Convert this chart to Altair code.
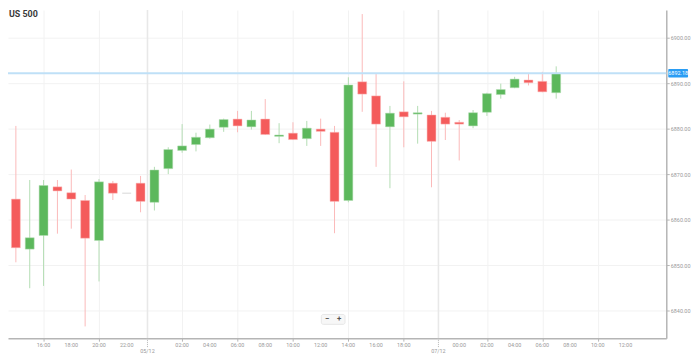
import altair as alt
import pandas as pd

# ---- data (hourly candles) ----
opens = [6864.5, 6853.5, 6856.5, 6867.2, 6865.9, 6864.2, 6855.4, 6868.0, 6865.8, 6868.0,
         6863.8, 6871.2, 6875.2, 6876.5, 6878.0, 6880.3, 6882.1, 6880.4, 6882.1, 6878.3,
         6879.0, 6877.8, 6879.9, 6879.2, 6864.2, 6890.3, 6887.2, 6880.4, 6883.7, 6883.2,
         6883.0, 6882.5, 6881.4, 6880.6, 6883.6, 6887.5, 6889.0, 6890.7, 6890.4, 6887.9]
highs = [6880.6, 6868.7, 6868.7, 6868.7, 6871.0, 6865.4, 6868.9, 6868.5, 6865.8, 6869.6,
         6871.6, 6875.9, 6881.0, 6879.1, 6880.9, 6882.2, 6883.9, 6883.9, 6886.5, 6881.2,
         6881.4, 6881.7, 6882.2, 6880.6, 6891.3, 6905.2, 6892.0, 6885.0, 6890.4, 6885.0,
         6883.9, 6883.5, 6881.9, 6884.1, 6887.9, 6889.9, 6891.4, 6892.0, 6892.5, 6893.7]
lows = [6850.6, 6844.9, 6845.4, 6856.9, 6858.0, 6836.5, 6846.4, 6864.3, 6865.8, 6861.6,
        6862.0, 6870.0, 6874.7, 6875.0, 6877.8, 6879.3, 6879.2, 6879.8, 6878.6, 6876.8,
        6877.5, 6876.2, 6876.2, 6857.0, 6863.8, 6883.7, 6871.6, 6866.9, 6875.9, 6876.7,
        6867.1, 6877.5, 6873.0, 6880.1, 6882.8, 6886.6, 6888.9, 6889.5, 6888.0, 6886.6]
closes = [6853.8, 6856.0, 6867.5, 6866.3, 6864.5, 6855.9, 6868.3, 6865.8, 6865.8, 6864.0,
          6870.9, 6875.4, 6876.2, 6878.1, 6879.9, 6882.0, 6880.6, 6881.9, 6878.7, 6878.6,
          6877.6, 6880.1, 6879.4, 6864.0, 6889.6, 6887.6, 6881.0, 6883.4, 6882.6, 6883.5,
          6877.2, 6881.0, 6881.0, 6883.5, 6887.7, 6888.6, 6890.9, 6890.1, 6888.1, 6892.18]

hour_ticks = [2, 4, 6, 8, 12, 14, 16, 18, 20, 22, 24, 26, 28, 32, 34, 36, 38, 40, 42, 44]
hour_labels = ["16:00", "18:00", "20:00", "22:00", "02:00", "04:00", "06:00", "08:00",
               "10:00", "12:00", "14:00", "16:00", "18:00", "00:00", "02:00", "04:00",
               "06:00", "08:00", "10:00", "12:00"]
date_ticks = [9.5, 30.5]
date_labels = ["05/12", "07/12"]
price_ticks = [6840, 6850, 6860, 6870, 6880, 6890, 6900]
last_price = 6892.18
title_text = "US 500"

# ---- tables ----
def direction(o, c):
    if c > o:
        return "up"
    if c < o:
        return "down"
    return "flat"

candles = pd.DataFrame({
    "i": list(range(len(opens))),
    "open": opens, "high": highs, "low": lows, "close": closes,
})
candles["dir"] = [direction(o, c) for o, c in zip(opens, closes)]
hours = pd.DataFrame({"i": hour_ticks, "label": hour_labels})
dates = pd.DataFrame({"i": date_ticks, "label": date_labels})
price = pd.DataFrame({"p": [last_price], "lo": [last_price - 0.95], "hi": [last_price + 0.95],
                      "label": [f"{last_price:.2f}"]})
title_df = pd.DataFrame({"t": [title_text]})
btn_df = pd.DataFrame({"t": ["\u2212", "+"], "px": [323, 335]})

W, H = 666, 332
FONT = "Roboto"
LBL = "#999999"

xscale = alt.Scale(domain=[-0.211, 46.59], nice=False, zero=False)
yscale = alt.Scale(domain=[6833.91, 6906.09], nice=False, zero=False)

body_col = alt.Scale(domain=["up", "down", "flat"], range=["#5cb85c", "#f45b5b", "#b8b8b8"])
wick_col = alt.Scale(domain=["up", "down", "flat"], range=["#b3ddb3", "#fbb9b9", "#d0d0d0"])

base = alt.Chart(candles)

wicks = base.mark_rule(strokeWidth=1).encode(
    x=alt.X("i:Q", scale=xscale, title=None,
            axis=alt.Axis(values=hour_ticks, labels=False, orient="bottom",
                          grid=True, gridColor="#f2f2f2", gridWidth=1,
                          domainColor="#b5b5b5", domainWidth=1.5,
                          tickColor="#b5b5b5", tickSize=3)),
    y=alt.Y("low:Q", scale=yscale, title=None,
            axis=alt.Axis(values=price_ticks, format=".2f", orient="right",
                          grid=True, gridColor="#f2f2f2", gridWidth=1,
                          domainColor="#b5b5b5", domainWidth=1.5,
                          tickColor="#b5b5b5", tickSize=3, labelPadding=1,
                          labelFontSize=5.5, labelColor=LBL, labelFont=FONT,
                          labelFlush=False, labelOverlap=False)),
    y2="high:Q",
    stroke=alt.Stroke("dir:N", scale=wick_col, legend=None),
)

hour_text = alt.Chart(hours).mark_text(fontSize=5.5, color=LBL, font=FONT,
                                       baseline="middle", align="center").encode(
    x=alt.X("i:Q", scale=xscale), y=alt.value(H + 7), text="label:N")

date_lines = alt.Chart(dates).mark_rule(color="#e8e8e8", strokeWidth=1.6).encode(
    x=alt.X("i:Q", scale=xscale), y=alt.value(0), y2=alt.value(H))

date_ticks_m = alt.Chart(dates).mark_rule(color="#b5b5b5", strokeWidth=1, strokeDash=[1, 1]).encode(
    x=alt.X("i:Q", scale=xscale), y=alt.value(H), y2=alt.value(H + 9))

date_text = alt.Chart(dates).mark_text(fontSize=5.5, color=LBL, font=FONT,
                                       baseline="middle", align="center").encode(
    x=alt.X("i:Q", scale=xscale), y=alt.value(H + 13), text="label:N")

bodies = base.mark_bar(size=9, strokeWidth=1, strokeOpacity=0.5).encode(
    x=alt.X("i:Q", scale=xscale),
    y=alt.Y("open:Q", scale=yscale),
    y2="close:Q",
    fill=alt.Fill("dir:N", scale=body_col, legend=None),
    stroke=alt.Stroke("dir:N", scale=wick_col, legend=None),
)

price_line = alt.Chart(price).mark_rule(color="#bfe0f7", strokeWidth=2).encode(
    y=alt.Y("p:Q", scale=yscale), x=alt.value(0), x2=alt.value(W))

price_box = alt.Chart(price).mark_rect(color="#2a9df4", cornerRadius=1).encode(
    y=alt.Y("lo:Q", scale=yscale), y2="hi:Q", x=alt.value(W + 2), x2=alt.value(W + 22))

price_text = alt.Chart(price).mark_text(fontSize=5.5, color="white", font=FONT,
                                        baseline="middle", align="center").encode(
    y=alt.Y("p:Q", scale=yscale), x=alt.value(W + 12), text="label:N")

title = alt.Chart(title_df).mark_text(fontSize=9, fontWeight="bold", color="#3a3a3a",
                                      font=FONT, align="left", baseline="middle").encode(
    x=alt.value(1), y=alt.value(4), text="t:N")

btn_box = alt.Chart(title_df).mark_rect(fill="#f7f7f7", stroke="#e2e2e2", strokeWidth=0.8,
                                        cornerRadius=2).encode(
    x=alt.value(317), x2=alt.value(341), y=alt.value(308), y2=alt.value(318))

btn_text = alt.Chart(btn_df).mark_text(fontSize=8, color="#555555", font=FONT,
                                       fontWeight="bold", align="center",
                                       baseline="middle").encode(
    x=alt.X("px:Q", scale=None), y=alt.value(313), text="t:N")

chart = alt.layer(
    wicks, date_lines, bodies, price_line, price_box, price_text,
    hour_text, date_ticks_m, date_text, title, btn_box, btn_text,
).resolve_scale(
    stroke="independent", fill="independent"
).properties(
    width=W, height=H,
    autosize=alt.AutoSizeParams(type="none"),
    padding={"left": 0, "top": 0, "right": 25, "bottom": 18},
    background="white",
).configure_view(stroke=None)

chart.save("out.html", embed_options={"renderer": "svg", "actions": False})
